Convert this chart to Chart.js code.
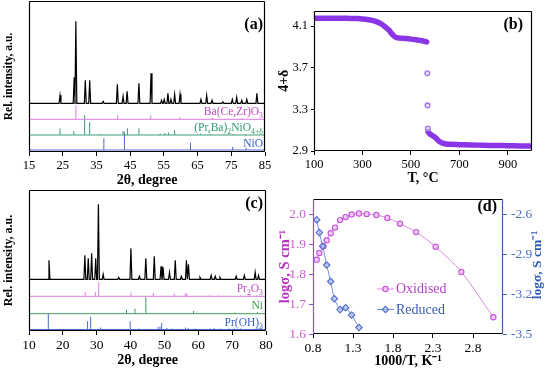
<!DOCTYPE html>
<html>
<head>
<meta charset="utf-8">
<script src="https://cdn.jsdelivr.net/npm/chart.js@4.4.0/dist/chart.umd.min.js"></script>
<style>
  body { margin: 0; background: #fff; }
  #wrap { position: relative; width: 550px; height: 374px; }
  #wrap canvas { position: absolute; }
</style>
</head>
<body>
<div id="wrap">
  <canvas id="chartA" width="275" height="187" style="left:0;top:0"></canvas>
  <canvas id="chartB" width="275" height="187" style="left:275px;top:0"></canvas>
  <canvas id="chartC" width="275" height="187" style="left:0;top:187px"></canvas>
  <canvas id="chartD" width="275" height="187" style="left:275px;top:187px"></canvas>
</div>
<script>
const SERIF = "'Liberation Serif', 'Times New Roman', serif";

// (a) XRD, oxidised composite
const aTicks = [15, 25, 35, 45, 55, 65, 75, 85];
const aPeakPos = [24.2, 28.4, 28.9, 31.7, 33.0, 37.0, 41.2, 42.9, 44.1, 47.6, 51.2, 54.3, 55.1, 56.2, 57.1, 58.2, 59.8, 66.0, 67.7, 69.3, 72.5, 75.3, 76.6, 78.1, 79.6, 82.6];
const aPeakInt = [8, 26, 82, 23, 23, 2, 19, 7, 12, 20, 30, 3, 4, 10, 4, 9, 9, 4, 8, 3, 1.5, 4, 6, 3, 4, 10];
const aBczPos = [28.9, 41.3, 51.1, 59.7, 69.4, 78.3];
const aBczInt = [14, 4, 4, 2, 1.5, 1];
const aRpPos = [24.2, 28.3, 31.5, 33.0, 35.9, 42.9, 44.2, 47.6, 53.9, 55.3, 56.4, 58.2, 65.9, 68.9, 75.5, 79.2];
const aRpInt = [6.7, 4, 20, 13, 1, 3.7, 6.7, 6.7, 1.5, 2, 2.5, 5, 1.5, 1, 1, 1];
const aNioPos = [37.2, 43.3, 62.9, 75.4, 79.4];
const aNioInt = [11.7, 18.3, 7.3, 3, 2];
const aBase = [48.7, 32.7, 17, 2];

// (b) oxygen content vs temperature
const bTicksX = [100, 300, 500, 700, 900];
const bTicksY = [2.9, 3.3, 3.7, 4.1];
const tHigh = [100, 130, 160, 190, 220, 250, 280, 300, 320, 340, 360, 380, 395, 410, 420, 430, 440, 450, 460, 480, 500, 520, 540, 555, 565];
const dHigh = [4.176, 4.176, 4.176, 4.176, 4.175, 4.174, 4.172, 4.169, 4.164, 4.155, 4.141, 4.118, 4.09, 4.06, 4.03, 4.005, 3.99, 3.986, 3.984, 3.98, 3.975, 3.969, 3.962, 3.955, 3.948];
const tJump = [568, 569, 570];
const dJump = [3.646, 3.338, 3.115];
const tLow = [571, 575, 580, 590, 600, 610, 620, 630, 645, 660, 700, 750, 800, 850, 900, 950, 1000];
const dLow = [3.084, 3.072, 3.062, 3.047, 3.03, 3.008, 2.988, 2.976, 2.968, 2.964, 2.961, 2.958, 2.955, 2.953, 2.951, 2.949, 2.947];

// (c) XRD, reduced composite
const cTicks = [10, 20, 30, 40, 50, 60, 70, 80];
const cPeakPos = [15.9, 26.5, 27.5, 28.5, 29.7, 30.5, 31.9, 36.5, 40.1, 42.6, 44.5, 47.0, 49.0, 49.6, 51.5, 53.2, 55.0, 56.5, 57.1, 60.5, 63.8, 65.0, 66.4, 71.2, 73.6, 76.8, 77.8];
const cPeakInt = [19, 24, 21, 26, 21, 75, 5, 2, 31, 3, 21, 23, 13, 12, 7, 19, 3, 19, 15, 2, 4, 3, 2, 3, 4, 7, 4];
const cPrOPos = [26.6, 29.6, 30.6, 40.1, 46.7, 52.9, 56.1, 56.6, 63.3, 66.0, 72.5, 75.2, 77.2];
const cPrOInt = [4.3, 4.3, 14.3, 3.7, 3.3, 2.7, 3, 3, 1, 1, 1, 1, 1];
const cNiPos = [38.8, 41.3, 44.5, 58.6, 70.8, 77.5];
const cNiInt = [4, 5, 16.7, 2.7, 1.2, 1.5];
const cHydPos = [15.7, 27.3, 28.2, 31.2, 39.9, 42.5, 48.1, 48.7, 49.2, 50.7, 52.3, 56.2, 57.0, 59.1, 63.5, 64.7, 66.6, 69.1, 70.7, 72.5, 77.4, 78.3];
const cHydInt = [15.7, 8.3, 12.7, 2, 8.3, 1, 2.5, 3, 6.7, 1.5, 1, 2, 1.5, 1, 1, 1.5, 1, 1, 1, 1, 1.5, 2];
const cBase = [51.7, 34.7, 17.3, 1.5];

// (d) conductivity
const dTicksX = [0.8, 1.3, 1.8, 2.3, 2.8];
const dTicksL = [1.6, 1.7, 1.8, 1.9, 2.0];
const dTicksR = [-3.5, -3.2, -2.9, -2.6];
const invTOx = [0.846, 0.879, 0.929, 0.971, 1.021, 1.075, 1.138, 1.208, 1.283, 1.375, 1.471, 1.592, 1.729, 1.888, 2.088, 2.333, 2.654, 3.054];
const sigOx = [1.848, 1.87, 1.893, 1.913, 1.936, 1.955, 1.98, 1.99, 1.999, 2.002, 2.0, 1.997, 1.987, 1.968, 1.94, 1.891, 1.807, 1.656];
const invTRed = [0.846, 0.879, 0.921, 0.971, 1.021, 1.067, 1.138, 1.208, 1.283, 1.375];
const sigRed = [-2.642, -2.739, -2.841, -2.982, -3.106, -3.235, -3.317, -3.303, -3.357, -3.451];

Chart.defaults.font.family = SERIF;
Chart.defaults.color = '#000';
Chart.defaults.animation = false;

function profile(pos, ints, base, xmin, xmax, w) {
  const pts = [{x: xmin, y: base}];
  pos.forEach((p, i) => {
    pts.push({x: p - w, y: base}, {x: p, y: base + ints[i]}, {x: p + w, y: base});
  });
  pts.push({x: xmax, y: base});
  return pts;
}

function sticks(pos, ints, base, xmin, xmax) {
  const pts = [{x: xmin, y: base}, {x: xmax, y: base}, {x: xmax, y: null}];
  pos.forEach((p, i) => {
    pts.push({x: p, y: base}, {x: p, y: base + ints[i]}, {x: p, y: null});
  });
  return pts;
}

function pairs(xs, ys) {
  return xs.map((x, i) => ({x: x, y: ys[i]}));
}

const frame = {
  id: 'frame',
  afterDatasetsDraw(chart, args, opts) {
    const {ctx, chartArea} = chart;
    const c = opts.colors || {};
    const l = Math.round(chartArea.left) + 0.5, r = Math.round(chartArea.right) - 0.5;
    const t = Math.round(chartArea.top) + 0.5, b = Math.round(chartArea.bottom) - 0.5;
    ctx.save();
    ctx.lineWidth = 1.2;
    [[l, t, r, t, c.top], [r, t, r, b, c.right], [l, b, r, b, c.bottom], [l, t, l, b, c.left]].forEach(s => {
      ctx.strokeStyle = s[4] || '#000';
      ctx.beginPath();
      ctx.moveTo(s[0], s[1]);
      ctx.lineTo(s[2], s[3]);
      ctx.stroke();
    });
    ctx.restore();
  }
};

// text with subscripts; right aligned at x unless align is 'center'
const notes = {
  id: 'notes',
  afterDraw(chart, args, opts) {
    const ctx = chart.ctx;
    (opts.items || []).forEach(it => {
      ctx.save();
      ctx.fillStyle = it.color;
      ctx.textBaseline = it.rot ? 'middle' : 'alphabetic';
      const parts = it.parts.map(p => ({
        t: p[0], sub: p[1],
        font: (it.bold ? 'bold ' : '') + (p[1] ? it.size * 0.68 : it.size) + 'px ' + SERIF
      }));
      let w = 0;
      parts.forEach(p => { ctx.font = p.font; p.w = ctx.measureText(p.t).width; w += p.w; });
      ctx.translate(it.x, it.y);
      if (it.rot) ctx.rotate(it.rot);
      let x = it.align === 'center' ? -w / 2 : -w;
      parts.forEach(p => {
        ctx.font = p.font;
        ctx.fillText(p.t, x, p.sub ? it.size * 0.28 : 0);
        x += p.w;
      });
      ctx.restore();
    });
  }
};

const key = {
  id: 'key',
  afterDraw(chart, args, opts) {
    const ctx = chart.ctx;
    chart.data.datasets.forEach(ds => {
      const row = opts.rows[ds.label];
      if (!row) return;
      ctx.save();
      ctx.strokeStyle = ds.borderColor;
      ctx.lineWidth = 1;
      ctx.beginPath();
      ctx.moveTo(opts.x, row.y);
      ctx.lineTo(opts.x + 17, row.y);
      ctx.stroke();
      ctx.fillStyle = ds.pointBackgroundColor;
      ctx.strokeStyle = ds.pointBorderColor;
      ctx.lineWidth = ds.pointBorderWidth;
      Chart.helpers.drawPoint(ctx, {pointStyle: ds.pointStyle, radius: ds.pointRadius, rotation: 0, borderWidth: ds.pointBorderWidth}, opts.x + 8.5, row.y);
      ctx.fillStyle = row.color;
      ctx.font = '14px ' + SERIF;
      ctx.textBaseline = 'middle';
      ctx.fillText(ds.label, opts.x + 19, row.y + 0.5);
      ctx.restore();
    });
  }
};

function fixedTicks(list) {
  return function (scale) { scale.ticks = list.map(v => ({value: v})); };
}

function xrdChart(canvasId, spec) {
  const datasets = [
    {data: profile(spec.pos, spec.ints, spec.base[0], spec.xmin, spec.xmax, 0.28), borderColor: '#000', borderWidth: 1.2},
  ];
  spec.phases.forEach((ph, k) => {
    datasets.push({data: sticks(ph.pos, ph.ints, spec.base[k + 1], spec.xmin, spec.xmax), borderColor: ph.color, borderWidth: 1});
  });
  return new Chart(document.getElementById(canvasId), {
    type: 'line',
    data: {datasets: datasets},
    options: {
      responsive: false,
      elements: {point: {radius: 0}, line: {tension: 0}},
      layout: {padding: spec.pad},
      plugins: {legend: {display: false}, tooltip: {enabled: false},
        frame: {}, notes: {items: spec.notes}},
      scales: {
        x: {
          type: 'linear', min: spec.xmin, max: spec.xmax,
          afterBuildTicks: fixedTicks(spec.ticks),
          afterFit: s => { s.height = spec.bottomH; },
          grid: {drawOnChartArea: false, tickLength: 4, color: '#000'},
          border: {display: false},
          ticks: {font: {size: spec.tickSize}, padding: 2, maxRotation: 0},
          title: {display: true, text: '2θ, degree', font: {size: 14, weight: 'bold'}, padding: {top: 0, bottom: spec.xTitlePad}}
        },
        y: {
          min: 0, max: spec.ymax,
          afterFit: s => { s.width = spec.leftW; },
          grid: {display: false},
          border: {display: false},
          ticks: {display: false},
          title: {display: true, text: 'Rel. intensity, a.u.', font: {size: spec.yTitleSize, weight: 'bold'}, padding: {top: 2, bottom: 0}}
        }
      }
    },
    plugins: [frame, notes]
  });
}

xrdChart('chartA', {
  pos: aPeakPos, ints: aPeakInt, base: aBase, xmin: 15, xmax: 85, ticks: aTicks, ymax: 151,
  phases: [
    {pos: aBczPos, ints: aBczInt, color: '#dd7ddd'},
    {pos: aRpPos, ints: aRpInt, color: '#3f9e76'},
    {pos: aNioPos, ints: aNioInt, color: '#4a6cc8'}
  ],
  pad: {top: 1, right: 10, left: 0, bottom: 0}, leftW: 29, bottomH: 35, tickSize: 12.5, xTitlePad: -1.5, yTitleSize: 11.5,
  notes: [
    {parts: [['(a)']], x: 263, y: 29, size: 16, bold: true, color: '#000'},
    {parts: [['Ba(Ce,Zr)O'], ['3', 1]], x: 263, y: 114.5, size: 11.5, color: '#c24cc4'},
    {parts: [['(Pr,Ba)'], ['2', 1], ['NiO'], ['4+δ', 1]], x: 263, y: 130.5, size: 11.5, color: '#2f9a6c'},
    {parts: [['NiO']], x: 263, y: 146.5, size: 11.5, color: '#3a62c6'}
  ]
});

xrdChart('chartC', {
  pos: cPeakPos, ints: cPeakInt, base: cBase, xmin: 10, xmax: 80, ticks: cTicks, ymax: 141,
  phases: [
    {pos: cPrOPos, ints: cPrOInt, color: '#dd7ddd'},
    {pos: cNiPos, ints: cNiInt, color: '#3f9e5a'},
    {pos: cHydPos, ints: cHydInt, color: '#4a6cc8'}
  ],
  pad: {top: 3, right: 9, left: 0, bottom: 0}, leftW: 29, bottomH: 43, tickSize: 13.5, xTitlePad: 5, yTitleSize: 12,
  notes: [
    {parts: [['(c)']], x: 263, y: 21, size: 16, bold: true, color: '#000'},
    {parts: [['Pr'], ['2', 1], ['O'], ['3', 1]], x: 263, y: 104.5, size: 11.5, color: '#c24cc4'},
    {parts: [['Ni']], x: 263, y: 121.5, size: 11.5, color: '#3a9a4a'},
    {parts: [['Pr(OH)'], ['3', 1]], x: 263, y: 138.5, size: 11.5, color: '#3a62c6'}
  ]
});

// (b)
const bColor = '#8b36e6';
new Chart(document.getElementById('chartB'), {
  type: 'line',
  data: {
    datasets: [
      {data: pairs(tHigh, dHigh), borderColor: bColor, borderWidth: 5.5, pointRadius: 0, tension: 0.3, borderCapStyle: 'round'},
      {data: pairs(tJump, dJump), showLine: false, pointRadius: 2.4, pointBorderWidth: 1.3, pointBorderColor: '#a27ae6', pointBackgroundColor: 'rgba(215,190,245,0.6)'},
      {data: pairs(tLow, dLow), borderColor: bColor, borderWidth: 5.5, pointRadius: 0, tension: 0.3, borderCapStyle: 'round'}
    ]
  },
  options: {
    responsive: false,
    layout: {padding: {top: 8, right: 18, left: 0, bottom: 0}},
    plugins: {legend: {display: false}, tooltip: {enabled: false}, frame: {},
      notes: {items: [{parts: [['(b)']], x: 248, y: 29, size: 16, bold: true, color: '#000'}]}},
    scales: {
      x: {
        type: 'linear', min: 100, max: 1000,
        afterBuildTicks: fixedTicks(bTicksX),
        afterFit: s => { s.height = 36; },
        grid: {drawOnChartArea: false, tickLength: 4, color: '#000'},
        border: {display: false},
        ticks: {font: {size: 12.5}, padding: 2, maxRotation: 0},
        title: {display: true, text: 'T, °C', font: {size: 14, weight: 'bold'}, padding: {top: 0, bottom: 0}}
      },
      y: {
        min: 2.9, max: 4.25,
        afterBuildTicks: fixedTicks(bTicksY),
        afterFit: s => { s.width = 39; },
        grid: {drawOnChartArea: false, tickLength: 3, color: '#000'},
        border: {display: false},
        ticks: {font: {size: 12.5}, padding: 3, callback: v => v.toFixed(1)},
        title: {display: true, text: '4+δ', font: {size: 14, weight: 'bold'}, padding: {top: 1, bottom: 0}}
      }
    }
  },
  plugins: [frame, notes]
});

// (d)
const oxColor = '#d98ae2', redColor = '#6f8cd4';
new Chart(document.getElementById('chartD'), {
  type: 'line',
  data: {
    datasets: [
      {label: 'Reduced', data: pairs(invTRed, sigRed), yAxisID: 'yR', borderColor: redColor, borderWidth: 1, tension: 0.2,
        pointStyle: 'rectRot', pointRadius: 3.2, pointBorderWidth: 1.2, pointBorderColor: '#5670c8', pointBackgroundColor: 'rgba(180,195,240,0.7)'},
      {label: 'Oxidised', data: pairs(invTOx, sigOx), yAxisID: 'yL', borderColor: oxColor, borderWidth: 1, tension: 0.3,
        pointStyle: 'circle', pointRadius: 2.6, pointBorderWidth: 1.2, pointBorderColor: '#c45ad6', pointBackgroundColor: 'rgba(240,200,248,0.7)'}
    ]
  },
  options: {
    responsive: false,
    layout: {padding: {top: 3, right: 0, left: 0, bottom: 0}},
    plugins: {legend: {display: false}, tooltip: {enabled: false},
      frame: {colors: {left: '#8b55d2', right: '#3d5fae'}},
      notes: {items: [
        {parts: [['(d)']], x: 222, y: 24, size: 16, bold: true, color: '#000'},
        {parts: [['logσ, S cm⁻¹']], x: 263, y: 78, rot: -Math.PI / 2, align: 'center', size: 13.5, bold: true, color: '#2f5cb4'}
      ]},
      key: {x: 102, rows: {Oxidised: {y: 102, color: '#b342c8'}, Reduced: {y: 122.5, color: '#3a5cb0'}}}},
    scales: {
      x: {
        type: 'linear', min: 0.8, max: 3.175,
        afterBuildTicks: fixedTicks(dTicksX),
        afterFit: s => { s.height = 40; },
        grid: {drawOnChartArea: false, tickLength: 4, color: '#000'},
        border: {display: false},
        ticks: {font: {size: 13.5}, padding: 2, maxRotation: 0, callback: v => v.toFixed(1)},
        title: {display: true, text: '1000/T, K⁻¹', font: {size: 14, weight: 'bold'}, padding: {top: 0, bottom: 4}}
      },
      yL: {
        position: 'left', min: 1.6, max: 2.05,
        afterBuildTicks: fixedTicks(dTicksL),
        afterFit: s => { s.width = 38; },
        grid: {drawOnChartArea: false, tickLength: 4, color: '#8b55d2'},
        border: {display: false},
        ticks: {font: {size: 13.5}, color: '#c862cc', padding: 3, callback: v => v.toFixed(1)},
        title: {display: true, text: 'logσ, S cm⁻¹', color: '#b832c2', font: {size: 14.5, weight: 'bold'}, padding: {top: 1.5, bottom: 0}}
      },
      yR: {
        position: 'right', min: -3.5, max: -2.4875,
        afterBuildTicks: fixedTicks(dTicksR),
        afterFit: s => { s.width = 47; },
        grid: {drawOnChartArea: false, tickLength: 4, color: '#3d5fae'},
        border: {display: false},
        ticks: {font: {size: 13.5}, color: '#4a6cc0', padding: 4, callback: v => v.toFixed(1)}
      }
    }
  },
  plugins: [frame, notes, key]
});
</script>
</body>
</html>
